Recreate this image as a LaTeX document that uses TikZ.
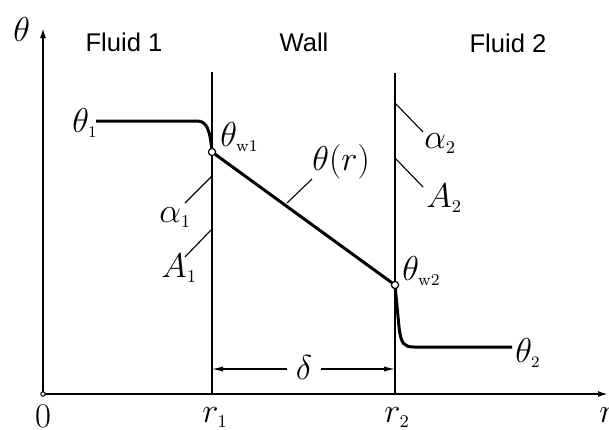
\documentclass[tikz,border=0pt]{standalone}
\usepackage{fontspec}
\newfontfamily\regionfont{Liberation Sans}
\usetikzlibrary{arrows.meta}

\newcommand{\lsub}[1]{_{\scriptscriptstyle #1}}

\tikzset{
  axis/.style={line width=0.9pt, -{Latex[length=5pt,width=3pt]}},
  wall/.style={line width=0.9pt},
  profile/.style={line width=1.5pt},
  leader/.style={line width=0.55pt},
  dim/.style={line width=0.6pt, -{Latex[length=5.5pt,width=2.6pt]}},
  region/.style={inner sep=0pt, font=\regionfont\fontsize{12.8}{14}\selectfont},
  mlabel/.style={inner sep=0pt, font=\fontsize{16.5}{19}\selectfont},
  biglabel/.style={inner sep=0pt, font=\fontsize{18}{21}\selectfont},
  axislabel/.style={inner sep=0pt, font=\fontsize{19}{22}\selectfont},
  wallpt/.style={circle, draw, line width=0.6pt, fill=white, inner sep=0pt, minimum size=3.6pt},
  origpt/.style={circle, draw, line width=0.5pt, fill=white, inner sep=0pt, minimum size=2.2pt}
}

\begin{document}
\begin{tikzpicture}[x=0.5pt, y=-0.5pt]
  \useasboundingbox (0,0) rectangle (609,429);

  % axes
  \coordinate (O)    at (43,394);
  \coordinate (ytip) at (43,28);
  \coordinate (xtip) at (608,394);
  \draw[axis] (O) -- (ytip);
  \draw[axis] (O) -- (xtip);
  \node[origpt] (orig) at (O) {};

  % walls
  \coordinate (r1top) at (212,72);
  \coordinate (r1bot) at (212,394);
  \coordinate (r2top) at (395,73);
  \coordinate (r2bot) at (395,394);
  \draw[wall] (r1top) -- (r1bot);
  \draw[wall] (r2top) -- (r2bot);

  % temperature profile
  \coordinate (p1) at (96,121);
  \coordinate (p2) at (197,121);
  \coordinate (tw1) at (212,152);
  \coordinate (tw2) at (395,285);
  \coordinate (p3) at (399,327);
  \coordinate (p4) at (414,347);
  \coordinate (p5) at (512,347);
  \draw[profile] (p1) -- (p2) .. controls (207,121) and (210,130) .. (tw1)
    -- (tw2) -- (p3) .. controls (401,344) and (404,347) .. (p4) -- (p5);
  \node[wallpt] (cw1) at (tw1) {};
  \node[wallpt] (cw2) at (tw2) {};

  % region titles
  \node[region] (fluid1) at (124,42) {Fluid 1};
  \node[region] (wall)   at (304,42) {Wall};
  \node[region] (fluid2) at (508,43) {Fluid 2};

  % profile labels
  \node[mlabel, anchor=base west] (thaxis) at (13,41)  {$\theta$};
  \node[mlabel, anchor=base east] (th1)    at (98,132) {$\theta\lsub{1}$};
  \node[mlabel, anchor=base west] (thw1)   at (220,146) {$\theta\lsub{\mathrm{w1}}$};
  \node[mlabel, anchor=base west] (thw2)   at (402,280) {$\theta\lsub{\mathrm{w2}}$};
  \node[mlabel, anchor=base west] (th2)    at (515,362) {$\theta\lsub{2}$};
  \node[inner sep=0pt, font=\fontsize{19}{22}\selectfont, anchor=base west] (thr) at (312,170) {$\theta(r)$};

  % surface labels
  \node[biglabel, anchor=base west] (alpha1) at (159,222) {$\alpha\lsub{1}$};
  \node[biglabel, anchor=base west] (area1)  at (161,277) {$A\lsub{1}$};
  \node[biglabel, anchor=base west] (alpha2) at (424,148) {$\alpha\lsub{2}$};
  \node[biglabel, anchor=base west] (area2)  at (426,207) {$A\lsub{2}$};

  % leader lines
  \coordinate (la1) at (212,176);  \coordinate (ea1) at (185,203);
  \coordinate (lA1) at (212,229);  \coordinate (eA1) at (185,257);
  \coordinate (la2) at (395,103);  \coordinate (ea2) at (423,132);
  \coordinate (lA2) at (395,158);  \coordinate (eA2) at (423,187);
  \coordinate (lr)  at (287,203);
  \draw[leader] (la1) -- (ea1);
  \draw[leader] (lA1) -- (eA1);
  \draw[leader] (la2) -- (ea2);
  \draw[leader] (lA2) -- (eA2);
  \draw[leader] (lr) -- (thr.south west);

  % wall thickness
  \node[biglabel] (delta) at (304,367) {$\delta$};
  \coordinate (d1) at (212,369);
  \coordinate (d2) at (395,369);
  \draw[dim] ([xshift=-4pt]delta.west |- d1) -- (d1);
  \draw[dim] ([xshift=4pt]delta.east |- d2) -- (d2);

  % axis labels
  \node[axislabel, anchor=north]      (zero) at (43,405)  {$0$};
  \node[axislabel, anchor=north west] (rad1) at (202,407) {$r\lsub{1}$};
  \node[axislabel, anchor=north west] (rad2) at (384,407) {$r\lsub{2}$};
  \node[axislabel, anchor=north west] (rad)  at (599,407) {$r$};
\end{tikzpicture}
\end{document}
